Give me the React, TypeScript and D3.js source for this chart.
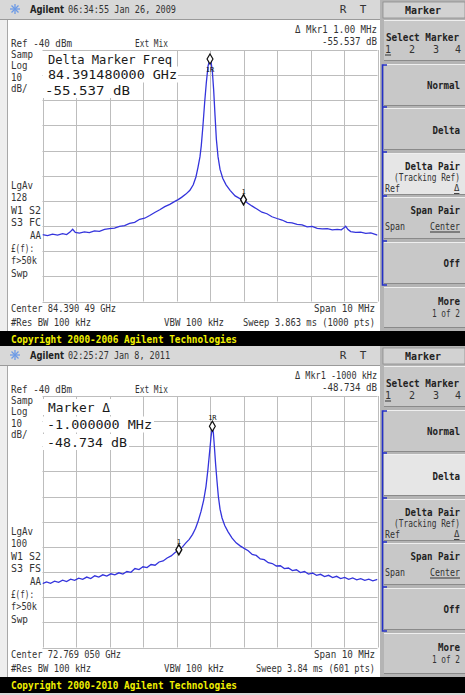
import * as d3 from "d3";
import React from "react";

// trace 1 (2009): offset from center in MHz, level in dBm
const topFreq = [
  -5.0, -4.85, -4.7, -4.55, -4.4, -4.28, -4.18, -4.1, -4.02, -3.9, -3.75, -3.6, -3.45, -3.3, -3.15,
  -3.0, -2.85, -2.7, -2.55, -2.4, -2.25, -2.1, -1.95, -1.8, -1.65, -1.5, -1.35, -1.2, -1.05, -0.95,
  -0.85, -0.72, -0.6, -0.5, -0.42, -0.36, -0.3, -0.26, -0.21, -0.16, -0.11, -0.06, -0.02, 0.0, 0.03,
  0.07, 0.11, 0.15, 0.19, 0.24, 0.3, 0.38, 0.48, 0.6, 0.75, 0.88, 1.0, 1.12, 1.25, 1.4, 1.55, 1.7,
  1.85, 2.0, 2.15, 2.3, 2.45, 2.6, 2.75, 2.9, 3.05, 3.2, 3.35, 3.5, 3.65, 3.8, 3.92, 4.0, 4.05, 4.12,
  4.2, 4.35, 4.5, 4.65, 4.8, 5.0,
];
const topLevel = [
  -113.4, -113.8, -113.2, -113.6, -113.0, -113.4, -112.4, -111.3, -112.5, -112.8, -112.3, -112.6,
  -111.9, -112.1, -111.3, -111.0, -110.8, -110.1, -109.8, -108.9, -108.5, -107.3, -106.9, -105.8,
  -104.6, -103.5, -102.3, -101.4, -100.2, -99.5, -98.6, -97.3, -95.8, -93.6, -90.5, -86.8, -82.5,
  -78.0, -70.0, -61.0, -53.0, -46.5, -44.3, -44.0, -44.6, -48.5, -56.0, -66.0, -75.5, -82.5, -87.5,
  -91.0, -93.6, -95.8, -98.0, -99.0, -99.5, -100.8, -102.0, -103.2, -104.5, -105.1, -106.3, -107.0,
  -107.6, -108.5, -108.7, -109.3, -109.5, -110.3, -110.1, -110.9, -111.1, -111.0, -111.5, -111.3,
  -111.5, -110.7, -110.1, -111.4, -112.2, -112.5, -112.4, -112.9, -112.7, -113.6,
];

// trace 2 (2011)
const botFreq = [
  -5.0, -4.88, -4.76, -4.64, -4.52, -4.4, -4.28, -4.16, -4.04, -3.92, -3.8, -3.68, -3.56, -3.44,
  -3.32, -3.2, -3.08, -2.96, -2.84, -2.72, -2.6, -2.48, -2.36, -2.24, -2.12, -2.0, -1.88, -1.76,
  -1.64, -1.52, -1.4, -1.28, -1.16, -1.05, -0.93, -0.82, -0.72, -0.62, -0.52, -0.43, -0.35, -0.27,
  -0.19, -0.12, -0.06, -0.01, 0.03, 0.07, 0.1, 0.13, 0.17, 0.21, 0.25, 0.3, 0.36, 0.44, 0.54, 0.66,
  0.78, 0.9, 1.02, 1.14, 1.26, 1.38, 1.5, 1.62, 1.74, 1.86, 1.98, 2.1, 2.22, 2.34, 2.46, 2.58, 2.7,
  2.82, 2.94, 3.06, 3.18, 3.3, 3.42, 3.54, 3.66, 3.78, 3.9, 4.02, 4.14, 4.26, 4.38, 4.5, 4.62, 4.74,
  4.86, 5.0,
];
const botLevel = [
  -114.6, -113.9, -114.5, -113.6, -114.1, -113.2, -113.8, -112.8, -113.3, -112.4, -112.9, -112.0,
  -112.6, -111.5, -112.0, -111.1, -111.6, -110.7, -111.1, -110.3, -110.8, -109.8, -110.1, -108.6,
  -109.0, -107.9, -108.2, -107.0, -107.3, -106.0, -105.6, -104.4, -103.6, -102.3, -101.1, -100.0,
  -98.4, -97.0, -95.0, -92.6, -89.6, -86.0, -81.5, -76.0, -69.0, -62.0, -56.4, -52.4, -54.5, -60.0,
  -67.5, -74.0, -80.0, -85.0, -88.5, -91.5, -94.0, -96.5, -98.4, -99.6, -100.6, -101.5, -103.0,
  -103.4, -104.8, -105.1, -106.3, -106.6, -107.6, -107.5, -108.6, -108.4, -109.4, -109.1, -110.2,
  -109.8, -110.8, -110.4, -111.3, -110.9, -111.8, -111.3, -112.2, -111.7, -112.6, -112.1, -112.9,
  -112.3, -113.1, -112.6, -113.3, -112.8, -113.5, -112.9,
];

const softkeys = ["Select Marker", "Normal", "Delta", "Delta Pair", "Span Pair", "Off", "More"];
const keyTops = [20, 64, 108, 153, 197, 242, 287];
const sideWidths = [22, 16, 30, 30, 11, 23, 26, 17];

const MONO = "'DejaVu Sans Mono', monospace";
const TRACE = "#3434dc";
const gx0 = 42.5;
const gx1 = 377.5;
const gy0 = 50;
const gy1 = 301.5;

const T = ({ x, y, s = 10, w, a = "start", b = false, fill = "#333", u = false, children }: any) => (
  <text
    x={x}
    y={y}
    fontSize={s}
    fontFamily={MONO}
    fontWeight={b ? "bold" : "normal"}
    textAnchor={a}
    fill={fill}
    dominantBaseline="central"
    textLength={w}
    lengthAdjust={w ? "spacingAndGlyphs" : undefined}
    textDecoration={u ? "underline" : undefined}
  >
    {children}
  </text>
);

// bold key label, right aligned
const K = ({ y, children }: any) => (
  <T x={460} y={y} s={11} b a="end" w={children.length * 5.5} fill="#222">
    {children}
  </T>
);

function Softkeys({ selected }: { selected: number }) {
  const h = [41, 42, 42, 42, 42, 42, 41];
  return (
    <g>
      <rect x={380} y={0} width={85} height={331} fill="#b4b4b4" />
      <rect x={383} y={2} width={82} height={16} fill="#d2d2d2" stroke="#8c8c8c" strokeWidth={0.8} />
      <T x={423} y={10} s={11} b w={36} a="middle" fill="#222">Marker</T>
      {softkeys.map((k, i) => (
        <g key={k}>
          <rect x={384} y={keyTops[i]} width={82} height={h[i]} fill={i === selected ? "#e6e6e6" : "#c8c8c8"} />
          <line x1={384} x2={466} y1={keyTops[i] + 0.5} y2={keyTops[i] + 0.5} stroke="#efefef" />
          <line x1={384} x2={466} y1={keyTops[i] + h[i] - 0.5} y2={keyTops[i] + h[i] - 0.5} stroke="#8a8a8a" />
        </g>
      ))}
      <T x={386} y={37} s={11} b w={73} fill="#222">Select Marker</T>
      <T x={385} y={49} s={10} u>1</T>
      <T x={409} y={49} s={10}>2</T>
      <T x={433} y={49} s={10}>3</T>
      <T x={455} y={49} s={10}>4</T>
      <K y={85}>Normal</K>
      <K y={130}>Delta</K>
      <K y={166}>Delta Pair</K>
      <T x={460} y={177} s={10} a="end" w={66}>(Tracking Ref)</T>
      <T x={385} y={188} s={10} w={15}>Ref</T>
      <T x={454} y={188} s={9} u>Δ</T>
      <K y={210}>Span Pair</K>
      <T x={385} y={226} s={10} w={20}>Span</T>
      <T x={460} y={226} s={10} a="end" w={30} u>Center</T>
      <K y={263}>Off</K>
      <K y={301}>More</K>
      <T x={460} y={313} s={10} a="end" w={28}>1 of 2</T>
      <path
        d={`M387,65H382.5V285H387${keyTops.slice(2, 6).map((t) => `M382.5,${t - 1}H387`).join("")}`}
        fill="none"
        stroke="#2430c8"
        strokeWidth={1.6}
      />
    </g>
  );
}

function Panel(p: any) {
  const x = d3.scaleLinear().domain([-5, 5]).range([gx0, gx1]);
  const y = d3.scaleLinear().domain([-140, -40]).range([gy1, gy0]);
  const line = d3
    .line<number>()
    .x((_, i) => x(p.freq[i]))
    .y((d) => y(d));
  const diamond = d3.symbol(d3.symbolDiamond, 30)();
  const pk = [x(p.freq[p.peak]), y(p.level[p.peak])];
  const mk = [x(p.freq[p.mkr]), y(p.level[p.mkr])];
  const clip = `clip${p.id}`;
  return (
    <g transform={`translate(0,${p.dy})`}>
      <rect x={0} y={0} width={465} height={331} fill="#ffffff" />
      <rect x={0} y={19} width={7} height={312} fill="#eeeeee" />
      <line x1={7.5} x2={7.5} y1={19} y2={331} stroke="#a8a8a8" />
      <rect x={0} y={0} width={380} height={19} fill="#d8d8d8" />
      <line x1={0} x2={380} y1={19.5} y2={19.5} stroke="#9a9a9a" />
      <g stroke="#6c9ae6" strokeWidth={1.3}>
        <line x1={10} x2={20} y1={9} y2={9} />
        <line x1={15} x2={15} y1={4} y2={14} />
        <line x1={11.5} x2={18.5} y1={5.5} y2={12.5} />
        <line x1={11.5} x2={18.5} y1={12.5} y2={5.5} />
      </g>
      <text x={30} y={9} fontSize={10.5} fontFamily="'DejaVu Sans', sans-serif" fontWeight="bold" dominantBaseline="central" fill="#222" textLength={34} lengthAdjust="spacingAndGlyphs">Agilent</text>
      <T x={68} y={9} s={10} w={p.stampW}>{p.stamp}</T>
      <T x={343} y={9} s={11} a="middle">R</T>
      <T x={363} y={9} s={11} a="middle">T</T>

      <T x={377} y={29} s={10} a="end" w={p.mkrW}>{p.mkr1}</T>
      <T x={377} y={41} s={10} a="end" w={p.valW}>{p.mkrVal}</T>
      <T x={11} y={43} s={10} w={61}>Ref -40 dBm</T>
      <T x={135} y={43} s={10} w={33}>Ext Mix</T>

      {y.ticks(10).map((t) => (
        <line key={`h${t}`} x1={gx0} x2={gx1} y1={Math.round(y(t)) + 0.5} y2={Math.round(y(t)) + 0.5} stroke="#bdbdbd" />
      ))}
      {x.ticks(10).map((t) => (
        <line key={`v${t}`} x1={Math.round(x(t)) + 0.5} x2={Math.round(x(t)) + 0.5} y1={gy0} y2={gy1} stroke="#bdbdbd" />
      ))}

      {p.box.map((b: any, i: number) => (
        <rect key={i} x={43} y={b[1] - 8} width={b[2] + 6} height={16} fill="#ffffff" />
      ))}
      {p.box.map((b: any, i: number) => (
        <T key={i} x={b[0]} y={b[1]} s={13} w={b[2]} fill="#1a1a1a">{b[3]}</T>
      ))}

      {p.side.map((s: string, i: number) => (
        <T key={i} x={11} y={[54, 65, 77, 88][i]} s={10} w={s.length * 5.5}>{s}</T>
      ))}
      {p.side2.map((s: string, i: number) => (
        <T key={i} x={s === "AA" ? 41 : 11} a={s === "AA" ? "end" : "start"} y={185 + i * 12.6} s={10} w={sideWidths[i]}>
          {s}
        </T>
      ))}

      <clipPath id={clip}>
        <rect x={gx0} y={gy0} width={gx1 - gx0} height={gy1 - gy0} />
      </clipPath>
      <path d={line(p.level) || ""} fill="none" stroke={TRACE} strokeWidth={1.3} clipPath={`url(#${clip})`} />

      <path d={diamond || ""} transform={`translate(${pk[0]},${pk[1] - 1})`} fill="#fff" stroke="#111" strokeWidth={1.2} />
      <T x={pk[0]} y={pk[1] + p.rOff} s={7} a="middle" fill="#111">1R</T>
      <path d={diamond || ""} transform={`translate(${mk[0]},${mk[1]})`} fill="#fff" stroke="#111" strokeWidth={1.4} />
      <T x={mk[0]} y={mk[1] - 8} s={7} a="middle" fill="#111">1</T>

      <T x={11} y={308} s={10} w={p.centerW}>{p.center}</T>
      <T x={11} y={322} s={10} w={80}>#Res BW 100 kHz</T>
      <T x={164} y={322} s={10} w={60}>VBW 100 kHz</T>
      <T x={375} y={308} s={10} a="end" w={61}>Span 10 MHz</T>
      <T x={375} y={322} s={10} a="end" w={p.sweepW}>{p.sweep}</T>

      <Softkeys selected={p.selected} />

      <rect x={0} y={331} width={465} height={16} fill="#000" />
      <T x={11} y={339} s={11} b w={226} fill="#f0f000">{p.copyright}</T>
    </g>
  );
}

export default function App() {
  return (
    <svg width={465} height={695} style={{ position: "absolute", left: 0, top: 0 }}>
      <rect width={465} height={695} fill="#d8d8d8" />
      <Panel
        id="a"
        dy={0}
        stamp="06:34:55  Jan 26, 2009"
        stampW={108}
        mkr1="Δ Mkr1  1.00 MHz"
        mkrW={82}
        mkrVal="-55.537 dB"
        valW={55}
        box={[
          [48, 59, 124, "Delta Marker Freq"],
          [48, 74.5, 129, "84.391480000 GHz"],
          [45, 90, 85, "-55.537 dB"],
        ]}
        side={["Samp", "Log", "10", "dB/"]}
        side2={["LgAv", "128", "W1  S2", "S3  FC", "AA", "£(f):", "f>50k", "Swp"]}
        freq={topFreq}
        level={topLevel}
        peak={43}
        mkr={56}
        rOff={10}
        center="Center 84.390 49 GHz"
        centerW={105}
        sweep="Sweep 3.863 ms (1000 pts)"
        sweepW={132}
        selected={3}
        copyright="Copyright 2000-2006 Agilent Technologies"
      />
      <Panel
        id="b"
        dy={346}
        stamp="02:25:27  Jan 8, 2011"
        stampW={102}
        mkr1="Δ Mkr1  -1000 kHz"
        mkrW={82}
        mkrVal="-48.734 dB"
        valW={55}
        box={[
          [48, 61, 62, "Marker Δ"],
          [47, 78.5, 105, "-1.000000 MHz"],
          [47, 96, 80, "-48.734 dB"],
        ]}
        side={["Samp", "Log", "10", "dB/"]}
        side2={["LgAv", "100", "W1  S2", "S3  FS", "AA", "£(f):", "f>50k", "Swp"]}
        freq={botFreq}
        level={botLevel}
        peak={47}
        mkr={34}
        rOff={-9}
        center="Center 72.769 050 GHz"
        centerW={110}
        sweep="Sweep 3.84 ms (601 pts)"
        sweepW={119}
        selected={2}
        copyright="Copyright 2000-2010 Agilent Technologies"
      />
    </svg>
  );
}
